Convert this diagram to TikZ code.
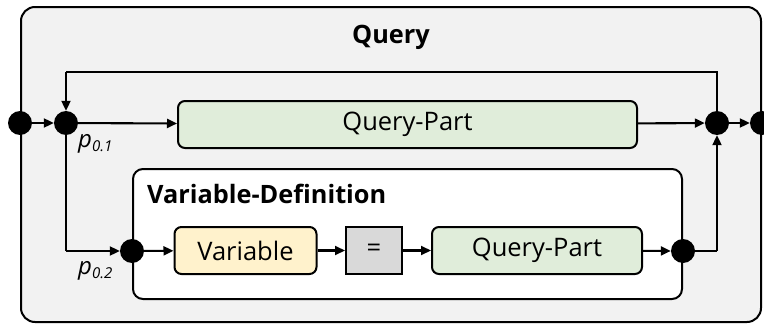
\documentclass[tikz,border=0pt]{standalone}
\usepackage{fontspec}
\setmainfont{Open Sans}
\usetikzlibrary{arrows.meta}

\definecolor{panelgrey}{HTML}{F2F2F2}
\definecolor{partgreen}{HTML}{E0EDDA}
\definecolor{varyellow}{HTML}{FFF2CC}
\definecolor{opgrey}{HTML}{D9D9D9}

\tikzset{
  flow/.style={line width=2.1pt, -{Triangle[length=10pt,width=9pt]}},
  wire/.style={line width=2.1pt},
  junction/.style={circle, fill=black, draw=none, minimum size=24pt, inner sep=0pt},
  panel/.style={draw=black, line width=2pt, rounded corners=14pt, fill=panelgrey},
  subpanel/.style={draw=black, line width=2pt, rounded corners=10pt, fill=white},
  termbox/.style={draw=black, line width=2pt, rounded corners=7pt, inner sep=0pt,
    font=\fontsize{25.5}{25.5}\selectfont},
  title/.style={font=\bfseries\fontsize{25.3}{25.3}\selectfont, inner sep=0pt},
  plabel/.style={inner sep=0pt, anchor=base west}
}

\newcommand{\pathlabel}[1]{{\fontsize{24}{24}\selectfont\itshape p}\raisebox{-4pt}{\fontsize{15}{15}\selectfont\itshape #1}}

\begin{document}
\begin{tikzpicture}[x=1pt,y=-1pt]
  \useasboundingbox (0,0) rectangle (764,324);

  % outer container and nested definition block
  \draw[panel] (21,7) rectangle (761,322);
  \node[title, anchor=base] (qtitle) at (391,43) {Query};
  \draw[subpanel] (133,169) rectangle (682,299);
  \node[title, anchor=base west] (vdtitle) at (147,203) {Variable-Definition};

  % junction points
  \node[junction] (in)  at (20,123) {};
  \node[junction] (p1)  at (66,123) {};
  \node[junction] (j)   at (717,123) {};
  \node[junction] (out) at (762,123) {};
  \node[junction] (v1)  at (132,251) {};
  \node[junction] (v2)  at (683,251) {};

  % terms
  \node[termbox, fill=partgreen, minimum width=459pt, minimum height=47pt] (qp1) at (407.5,124.5) {Query-Part};
  \node[termbox, fill=varyellow, minimum width=142pt, minimum height=47pt] (var) at (245.5,250.5) {Variable};
  \node[termbox, fill=opgrey, rounded corners=0pt, minimum width=56pt, minimum height=47pt] (eq) at (374,250.5) {=};
  \node[termbox, fill=partgreen, minimum width=210pt, minimum height=47pt] (qp2) at (537,250.5) {Query-Part};

  % path labels
  \node[plabel] (l1) at (78,147) {\pathlabel{0.1}};
  \node[plabel] (l2) at (78,274) {\pathlabel{0.2}};

  % corner points of the routed connectors
  \coordinate (fbR) at (717,72);
  \coordinate (fbL) at (66,72);
  \coordinate (dn)  at (66,251);
  \coordinate (up)  at (717,251);

  % main line
  \draw[flow] (in) -- (p1);
  \draw[flow] (p1) -- (qp1);
  \draw[flow] (qp1) -- (j);
  \draw[flow] (j) -- (out);

  % loop back
  \draw[wire] (j.center) -- (fbR) -- (fbL);
  \draw[flow] (fbL) -- (p1);

  % alternative through the variable definition
  \draw[wire] (p1.center) -- (dn);
  \draw[flow] (dn) -- (v1);
  \draw[flow] (v1) -- (var);
  \draw[flow] (var) -- (eq);
  \draw[flow] (eq) -- (qp2);
  \draw[flow] (qp2) -- (v2);
  \draw[wire] (v2.center) -- (up);
  \draw[flow] (up) -- (j);
\end{tikzpicture}
\end{document}
